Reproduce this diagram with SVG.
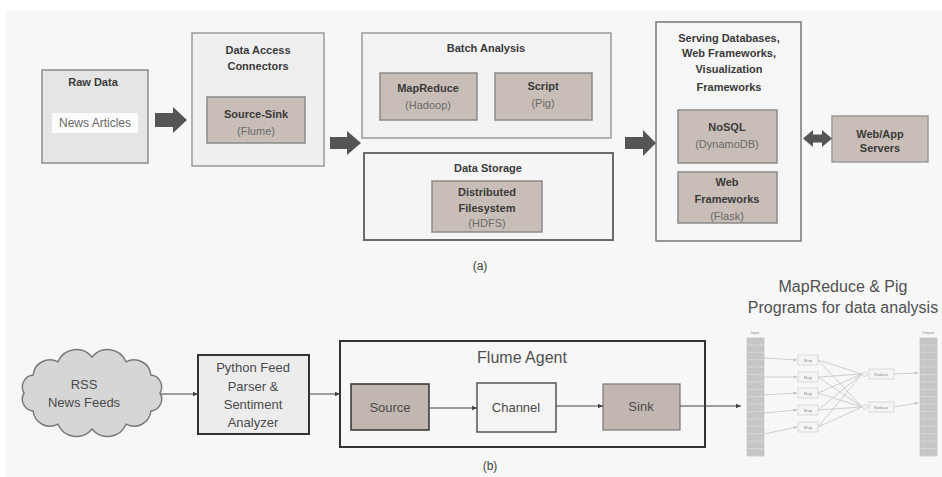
<svg xmlns="http://www.w3.org/2000/svg" width="942" height="477" viewBox="0 0 942 477">
  <style>
    .h { font-family: "Liberation Sans", Arial, sans-serif; font-size: 11px; font-weight: bold; fill: #3a3a3a; text-anchor: middle; }
    .s { font-family: "Liberation Sans", Arial, sans-serif; font-size: 11px; fill: #6a6a6a; text-anchor: middle; }
    .t { font-family: "Liberation Sans", Arial, sans-serif; font-size: 13px; fill: #4a4a4a; text-anchor: middle; }
    .cap { font-family: "Liberation Sans", Arial, sans-serif; font-size: 12px; fill: #444; text-anchor: middle; }
    .big { font-family: "Liberation Sans", Arial, sans-serif; font-size: 16px; fill: #505050; text-anchor: middle; }
    .tiny { font-family: "Liberation Sans", Arial, sans-serif; font-size: 4px; fill: #8a8a8a; text-anchor: middle; }
    .brown { fill: #c8beb7; stroke: #8a8a8a; stroke-width: 1.5; }
    .block { fill: #555555; }
    .thin { stroke: #444; stroke-width: 1; fill: none; marker-end: url(#tip); }
    .mr { stroke: #c4c4c4; stroke-width: 0.8; fill: none; }
  </style>
  <defs>
    <marker id="tip" viewBox="0 0 8 8" refX="7" refY="4" markerWidth="6" markerHeight="6" orient="auto" markerUnits="userSpaceOnUse">
      <path d="M0,1 L7,4 L0,7 z" fill="#444"/>
    </marker>
    <marker id="tipL" viewBox="0 0 8 8" refX="7" refY="4" markerWidth="4" markerHeight="4" orient="auto" markerUnits="userSpaceOnUse">
      <path d="M0,1 L7,4 L0,7 z" fill="#bbb"/>
    </marker>
    <pattern id="cells" width="17" height="7.4" patternUnits="userSpaceOnUse" x="747" y="338">
      <rect width="17" height="7.4" fill="#c6c6c6"/>
      <line x1="0" y1="7.2" x2="17" y2="7.2" stroke="#e2e2e2" stroke-width="0.8"/>
    </pattern>
    <filter id="soft" x="-5%" y="-5%" width="110%" height="110%">
      <feGaussianBlur stdDeviation="0.6"/>
    </filter>
  </defs>

  <!-- page background -->
  <rect x="0" y="0" width="942" height="477" fill="#ffffff"/>
  <rect x="6" y="10" width="936" height="467" fill="#f7f7f7"/>

  <!-- ===== (a) ===== -->
  <g id="raw-data">
    <rect x="42" y="70" width="106" height="93" fill="#e5e5e5" stroke="#8c8c8c" stroke-width="1.5"/>
    <text class="h" x="93" y="86">Raw Data</text>
    <rect x="52" y="113" width="86" height="20" fill="#fbfbfb"/>
    <text class="s" x="95" y="127" style="font-size:12px">News Articles</text>
  </g>

  <g id="data-access">
    <rect x="192" y="33" width="132" height="133" fill="#efefef" stroke="#9a9a9a" stroke-width="1.5"/>
    <text class="h" x="258" y="54">Data Access</text>
    <text class="h" x="258" y="70">Connectors</text>
    <g id="source-sink">
      <rect class="brown" x="207" y="97" width="98" height="46"/>
      <text class="h" x="256" y="118">Source-Sink</text>
      <text class="s" x="256" y="135">(Flume)</text>
    </g>
  </g>

  <g id="batch-analysis">
    <rect x="362" y="33" width="249" height="105" fill="#f3f3f3" stroke="#9a9a9a" stroke-width="1.5"/>
    <text class="h" x="486" y="52">Batch Analysis</text>
    <g id="mapreduce">
      <rect class="brown" x="380" y="73" width="97" height="47"/>
      <text class="h" x="428" y="92">MapReduce</text>
      <text class="s" x="428" y="109">(Hadoop)</text>
    </g>
    <g id="script">
      <rect class="brown" x="495" y="73" width="97" height="47"/>
      <text class="h" x="543" y="90">Script</text>
      <text class="s" x="543" y="107">(Pig)</text>
    </g>
  </g>

  <g id="data-storage">
    <rect x="364" y="153" width="249" height="87" fill="#f5f5f5" stroke="#6a6a6a" stroke-width="2"/>
    <text class="h" x="488" y="172">Data Storage</text>
    <g id="dfs">
      <rect class="brown" x="432" y="181" width="110" height="51"/>
      <text class="h" x="487" y="196">Distributed</text>
      <text class="h" x="487" y="212">Filesystem</text>
      <text class="s" x="487" y="227">(HDFS)</text>
    </g>
  </g>

  <g id="serving">
    <rect x="656" y="22" width="145" height="219" fill="#f6f6f6" stroke="#777" stroke-width="1.5"/>
    <text class="h" x="729" y="42">Serving Databases,</text>
    <text class="h" x="729" y="57">Web Frameworks,</text>
    <text class="h" x="729" y="73">Visualization</text>
    <text class="h" x="729" y="91">Frameworks</text>
    <g id="nosql">
      <rect class="brown" x="678" y="110" width="99" height="53"/>
      <text class="h" x="727" y="131">NoSQL</text>
      <text class="s" x="727" y="148">(DynamoDB)</text>
    </g>
    <g id="web-frameworks">
      <rect class="brown" x="678" y="172" width="99" height="51"/>
      <text class="h" x="727" y="186">Web</text>
      <text class="h" x="727" y="203">Frameworks</text>
      <text class="s" x="727" y="220">(Flask)</text>
    </g>
  </g>

  <g id="web-app-servers">
    <rect class="brown" x="832" y="116" width="96" height="46" style="stroke:#9a9a9a"/>
    <text class="h" x="880" y="138">Web/App</text>
    <text class="h" x="880" y="152">Servers</text>
  </g>

  <text class="cap" x="480" y="270">(a)</text>

  <!-- ===== (b) ===== -->
  <g id="rss">
    <path d="M160,393 A12,12 0 0 1 150.9,411 A17,17 0 0 1 126,424.2 A20,20 0 0 1 92,429 A20,20 0 0 1 58,424.2 A17,17 0 0 1 33.1,411 A12,12 0 0 1 24,393 A12,12 0 0 1 33.1,375 A17,17 0 0 1 58,361.8 A20,20 0 0 1 92,357 A20,20 0 0 1 126,361.8 A17,17 0 0 1 150.9,375 A12,12 0 0 1 160,393 Z" fill="#d6d6d6" stroke="#7a7a7a" stroke-width="1.5"/>
    <text class="t" x="84" y="389">RSS</text>
    <text class="t" x="84" y="407">News Feeds</text>
  </g>

  <g id="python-parser">
    <rect x="198" y="355" width="111" height="79" fill="#ececec" stroke="#333" stroke-width="2"/>
    <text class="t" x="253" y="372">Python Feed</text>
    <text class="t" x="253" y="391">Parser &amp;</text>
    <text class="t" x="253" y="409">Sentiment</text>
    <text class="t" x="253" y="427">Analyzer</text>
  </g>

  <g id="flume-agent">
    <rect x="340" y="341" width="365" height="106" fill="#f7f7f7" stroke="#333" stroke-width="2"/>
    <text class="big" x="522" y="363">Flume Agent</text>
    <g id="source">
      <rect x="351" y="384" width="78" height="46" fill="#c2b7b0" stroke="#333" stroke-width="1.5"/>
      <text class="t" x="390" y="412">Source</text>
    </g>
    <g id="channel">
      <rect x="477" y="383" width="79" height="49" fill="#f4f4f4" stroke="#555" stroke-width="1.5"/>
      <text class="t" x="516" y="412">Channel</text>
    </g>
    <g id="sink">
      <rect x="603" y="384" width="77" height="46" fill="#c2b7b0" stroke="#777" stroke-width="1.2"/>
      <text class="t" x="641" y="411">Sink</text>
    </g>
  </g>

  <text class="cap" x="490" y="470">(b)</text>

  <g id="mapreduce-pig">
    <text class="big" x="843" y="292">MapReduce &amp; Pig</text>
    <text class="big" x="843" y="313">Programs for data analysis</text>
    <g id="mr-figure" filter="url(#soft)">
      <text class="tiny" x="755" y="334">Input</text>
      <rect x="747" y="338" width="17" height="118" fill="url(#cells)" stroke="#bdbdbd" stroke-width="0.6"/>
      <text class="tiny" x="928" y="334">Output</text>
      <rect x="920" y="338" width="17" height="118" fill="url(#cells)" stroke="#bdbdbd" stroke-width="0.6"/>

      <!-- input splits to map tasks -->
      <path class="mr" marker-end="url(#tipL)" d="M764,358 L797,360"/>
      <path class="mr" marker-end="url(#tipL)" d="M764,377 L797,377"/>
      <path class="mr" marker-end="url(#tipL)" d="M764,395 L797,393"/>
      <path class="mr" marker-end="url(#tipL)" d="M764,413 L797,410"/>
      <path class="mr" marker-end="url(#tipL)" d="M764,434 L797,427"/>

      <!-- shuffle: every map to every reduce -->
      <path class="mr" d="M818,360 L862,374 M818,360 L862,407 M818,377 L862,374 M818,377 L862,407 M818,393 L862,374 M818,393 L862,407 M818,410 L862,374 M818,410 L862,407 M818,427 L862,374 M818,427 L862,407"/>

      <!-- reduce to output -->
      <path class="mr" marker-end="url(#tipL)" d="M893,374 L918,373"/>
      <path class="mr" marker-end="url(#tipL)" d="M893,407 L918,403"/>

      <g fill="#f4f4f4" stroke="#cfcfcf" stroke-width="0.7">
        <rect x="798" y="355" width="20" height="10"/>
        <rect x="798" y="372" width="20" height="10"/>
        <rect x="798" y="388" width="20" height="10"/>
        <rect x="798" y="405" width="20" height="10"/>
        <rect x="798" y="422" width="20" height="10"/>
        <circle cx="865" cy="374" r="2.5"/>
        <circle cx="865" cy="407" r="2.5"/>
        <rect x="869" y="369" width="25" height="10"/>
        <rect x="869" y="402" width="25" height="10"/>
      </g>
      <text class="tiny" x="808" y="361.5">Map</text>
      <text class="tiny" x="808" y="378.5">Map</text>
      <text class="tiny" x="808" y="394.5">Map</text>
      <text class="tiny" x="808" y="411.5">Map</text>
      <text class="tiny" x="808" y="428.5">Map</text>
      <text class="tiny" x="881" y="375.5">Reduce</text>
      <text class="tiny" x="881" y="408.5">Reduce</text>
    </g>
  </g>

  <!-- connectors -->
  <g id="connectors">
    <polygon class="block" points="155,113 173,113 173,107 187,120 173,133 173,127 155,127"/>
    <polygon class="block" points="330,137 347,137 347,131 361,143 347,155 347,149 330,149"/>
    <polygon class="block" points="625,137 643,137 643,130 656,143 643,156 643,149 625,149"/>
    <polygon class="block" points="803,138.5 813,130 813,134.5 822,134.5 822,130 832,138.5 822,147 822,142.5 813,142.5 813,147"/>
    <line class="thin" x1="161" y1="394" x2="198" y2="394"/>
    <line class="thin" x1="309" y1="394" x2="340" y2="394"/>
    <line class="thin" x1="429" y1="408" x2="477" y2="408"/>
    <line class="thin" x1="556" y1="406" x2="603" y2="406"/>
    <line class="thin" x1="680" y1="406" x2="741" y2="406"/>
  </g>
</svg>
